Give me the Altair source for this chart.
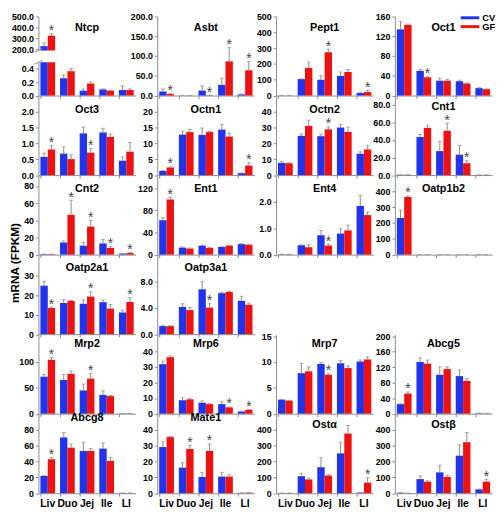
import altair as alt
import pandas as pd

CATEGORIES = ["Liv", "Duo", "Jej", "Ile", "LI"]
GROUPS = ["CV", "GF"]
LAYOUT = [
    ["Ntcp", "Asbt", "Pept1", "Oct1"],
    ["Oct3", "Octn1", "Octn2", "Cnt1"],
    ["Cnt2", "Ent1", "Ent4", "Oatp1b2"],
    ["Oatp2a1", "Oatp3a1", None, None],
    ["Mrp2", "Mrp6", "Mrp7", "Abcg5"],
    ["Abcg8", "Mate1", "Ostα", "Ostβ"],
]

CV_MEAN = {
    "Ntcp": [228, 0.26, 0.073, 0.092, 0.083],
    "Asbt": [10.2, 0.2, 12.6, 27, 3],
    "Pept1": [0.5, 104, 100, 124, 16],
    "Oct1": [134, 50, 30, 29, 15],
    "Oct3": [0.576, 0.68, 1.32, 1.35, 0.455],
    "Octn1": [1.3, 12.8, 12.7, 14.4, 0.6],
    "Octn2": [7.7, 24.8, 24.6, 30.1, 13.5],
    "Cnt1": [0.3, 43.3, 27.3, 23.3, 0.2],
    "Cnt2": [0.5, 14.1, 10.4, 13.0, 1.1],
    "Ent1": [62.3, 12.7, 16.2, 13.8, 19.0],
    "Ent4": [0.01, 0.356, 0.736, 0.80, 1.85],
    "Oatp1b2": [231.6, 0.3, 0.3, 0.3, 0.3],
    "Oatp2a1": [25.0, 16.1, 15.7, 16.5, 11.2],
    "Oatp3a1": [1.23, 4.17, 6.87, 6.27, 5.1],
    "Mrp2": [71.6, 65.4, 45.0, 36.4, 0.4],
    "Mrp6": [31.7, 8.6, 7.0, 6.1, 1.4],
    "Mrp7": [2.72, 7.84, 9.63, 9.75, 10.1],
    "Abcg5": [24.7, 133.3, 100.4, 97.0, 1.0],
    "Abcg8": [21.9, 70.6, 53.5, 56.4, 0.3],
    "Mate1": [29.2, 16.2, 10.3, 10.5, 0.2],
    "Ostα": [1.0, 107.6, 164.5, 251.8, 4.0],
    "Ostβ": [3.0, 89.3, 132.0, 237.6, 24.4],
}
CV_ERR = {
    "Ntcp": [30, 0.05, 0.025, 0.008, 0.063],
    "Asbt": [6.5, 0.1, 12, 17, 1],
    "Pept1": [0.2, 2, 25, 25, 2],
    "Oct1": [16, 3, 5, 2, 1],
    "Oct3": [0.12, 0.21, 0.2, 0.13, 0.12],
    "Octn1": [0.2, 1.1, 2.2, 1.7, 0.1],
    "Octn2": [0.8, 1.2, 1.3, 2.0, 1.2],
    "Cnt1": [0.1, 2.9, 10.9, 10.5, 0.1],
    "Cnt2": [0.2, 1.8, 3.6, 4.8, 0.2],
    "Ent1": [4.7, 1.1, 1.1, 0.6, 1.0],
    "Ent4": [0.005, 0.014, 0.18, 0.18, 0.4],
    "Oatp1b2": [51, 0.1, 0.1, 0.1, 0.1],
    "Oatp2a1": [2.3, 1.7, 1.9, 1.1, 1.2],
    "Oatp3a1": [0.07, 0.49, 1.23, 0.13, 0.7],
    "Mrp2": [4.3, 10.5, 12.4, 8.0, 0.1],
    "Mrp6": [2.0, 1.6, 1.2, 1.5, 0.2],
    "Mrp7": [0.06, 1.9, 0.25, 0.55, 0.3],
    "Abcg5": [0.5, 10.7, 20.6, 15.7, 0.5],
    "Abcg8": [0.3, 6.1, 11.0, 7.3, 0.1],
    "Mate1": [3.3, 3.1, 2.9, 2.7, 0.1],
    "Ostα": [0.5, 18.4, 60.9, 71.0, 1.0],
    "Ostβ": [1.0, 20.3, 44.6, 69.0, 1.6],
}
GF_MEAN = {
    "Ntcp": [324, 0.366, 0.18, 0.073, 0.083],
    "Asbt": [3.8, 0.3, 0.7, 86.5, 64],
    "Pept1": [0.5, 175, 274, 149, 22],
    "Oct1": [143, 37, 30, 24.5, 13],
    "Oct3": [0.81, 0.505, 0.71, 1.21, 0.74],
    "Octn1": [2.4, 13.6, 13.6, 12.2, 3.0],
    "Octn2": [7.5, 31.1, 28.9, 27.3, 16.2],
    "Cnt1": [0.3, 53.8, 50.5, 13.5, 0.2],
    "Cnt2": [0.5, 46.3, 32.6, 7.8, 1.9],
    "Ent1": [99.8, 11.0, 12.1, 16.2, 18.0],
    "Ent4": [0.01, 0.28, 0.344, 0.92, 1.50],
    "Oatp1b2": [364.8, 0.3, 0.3, 0.3, 0.3],
    "Oatp2a1": [13.5, 17.1, 19.4, 13.2, 16.6],
    "Oatp3a1": [1.23, 3.68, 4.07, 6.47, 4.5],
    "Mrp2": [104.3, 77.2, 67.9, 34.0, 0.5],
    "Mrp6": [36.2, 9.2, 6.1, 4.1, 2.5],
    "Mrp7": [2.53, 8.2, 7.53, 8.83, 10.5],
    "Abcg5": [51.9, 129.2, 115.2, 84.8, 0.8],
    "Abcg8": [43.0, 57.6, 53.5, 41.0, 0.3],
    "Mate1": [35.5, 28.0, 26.8, 10.5, 0.3],
    "Ostα": [1.0, 87.3, 111.7, 377.7, 67.0],
    "Ostβ": [1.0, 73.1, 103.6, 322.8, 73.1],
}
GF_ERR = {
    "Ntcp": [19, 0.04, 0.025, 0.005, 0.017],
    "Asbt": [1.2, 0.1, 0.3, 34.5, 22],
    "Pept1": [0.2, 37, 20, 16, 10],
    "Oct1": [1.5, 1, 3, 1, 0.5],
    "Oct3": [0.12, 0.135, 0.13, 0.09, 0.29],
    "Octn1": [0.2, 0.8, 0.2, 1.1, 0.9],
    "Octn2": [0.3, 3.6, 1.6, 3.0, 2.6],
    "Cnt1": [0.1, 2.9, 8.5, 2.9, 0.1],
    "Cnt2": [0.2, 17.0, 7.4, 1.8, 0.4],
    "Ent1": [4.1, 1.0, 0.9, 0.8, 1.0],
    "Ent4": [0.005, 0.1, 0.056, 0.2, 0.12],
    "Oatp1b2": [6, 0.1, 0.1, 0.1, 0.1],
    "Oatp2a1": [0.5, 0.4, 2.5, 2.1, 2.2],
    "Oatp3a1": [0.07, 0.39, 0.59, 0.13, 0.25],
    "Mrp2": [4.3, 5.5, 10.5, 1.2, 0.1],
    "Mrp6": [0.8, 0.6, 0.4, 0.2, 0.3],
    "Mrp7": [0.05, 0.87, 0.17, 0.43, 0.5],
    "Abcg5": [4.1, 9.1, 5.8, 5.7, 0.3],
    "Abcg8": [2.0, 4.9, 2.9, 4.0, 0.1],
    "Mate1": [0.4, 2.4, 4.4, 1.1, 0.1],
    "Ostα": [0.5, 8.1, 6.1, 50.7, 30.5],
    "Ostβ": [0.5, 6.1, 10.1, 61.0, 14.2],
}
SIGNIFICANT = {
    "Ntcp": ["Liv"], "Asbt": ["Liv", "Jej", "Ile", "LI"], "Pept1": ["Jej", "LI"],
    "Oct1": ["Duo"], "Oct3": ["Liv", "Jej"], "Octn1": ["Liv", "LI"], "Octn2": ["Jej"],
    "Cnt1": ["Jej", "Ile"], "Cnt2": ["Duo", "Jej", "Ile", "LI"], "Ent1": ["Liv"],
    "Ent4": ["Jej"], "Oatp1b2": ["Liv"], "Oatp2a1": ["Liv", "Jej", "LI"],
    "Oatp3a1": ["Jej"], "Mrp2": ["Liv", "Jej"], "Mrp6": ["Ile", "LI"], "Mrp7": ["Jej"],
    "Abcg5": ["Liv"], "Abcg8": ["Liv"], "Mate1": ["Duo", "Jej"], "Ostα": ["LI"],
    "Ostβ": ["LI"],
}
Y_MAX = {
    "Asbt": 200, "Pept1": 500, "Oct1": 160, "Oct3": 2.5, "Octn1": 25, "Octn2": 50,
    "Cnt1": 90, "Cnt2": 92, "Ent1": 143, "Ent4": 3.0, "Oatp1b2": 500, "Oatp2a1": 40.8,
    "Oatp3a1": 12.1, "Mrp2": 153, "Mrp6": 50.6, "Mrp7": 15.3, "Abcg5": 204,
    "Abcg8": 100, "Mate1": 50, "Ostα": 500, "Ostβ": 500,
}
Y_TICKS = {
    "Ntcp": [0, 0.2, 0.4, 200, 300, 400, 500],
    "Asbt": [0, 50, 100, 150, 200], "Pept1": [0, 100, 200, 300, 400, 500],
    "Oct1": [0, 40, 80, 120, 160], "Oct3": [0, 0.5, 1.0, 1.5, 2.0],
    "Octn1": [0, 5, 10, 15, 20], "Octn2": [0, 10, 20, 30, 40],
    "Cnt1": [0, 20, 40, 60, 80], "Cnt2": [0, 20, 40, 60, 80], "Ent1": [0, 40, 80, 120],
    "Ent4": [0, 1, 2], "Oatp1b2": [0, 100, 200, 300, 400], "Oatp2a1": [0, 10, 20, 30],
    "Oatp3a1": [0, 4, 8], "Mrp2": [0, 50, 100], "Mrp6": [0, 10, 20, 30, 40],
    "Mrp7": [0, 5, 10, 15], "Abcg5": [0, 40, 80, 120, 160, 200],
    "Abcg8": [0, 20, 40, 60, 80], "Mate1": [0, 10, 20, 30, 40],
    "Ostα": [0, 100, 200, 300, 400], "Ostβ": [0, 100, 200, 300, 400],
}
ONE_DECIMAL = ["Ntcp", "Asbt", "Oct3", "Cnt1", "Ent4", "Oatp3a1"]
TITLE_Y = [11.5, 14, 14, 13, 10, 4]
TITLE_Y_SPECIAL = {"Ostα": 11, "Ostβ": 11, "Cnt1": 11.5}

BLUE = "#2233EE"
RED = "#EE1111"
GRAY = "#8c8c8c"
FONT = "Liberation Sans"
W, H = 99, 80.5


def gene_frame(g):
    rows = []
    for i, c in enumerate(CATEGORIES):
        for grp, m, e in (("CV", CV_MEAN[g][i], CV_ERR[g][i]),
                          ("GF", GF_MEAN[g][i], GF_ERR[g][i])):
            rows.append({"cat": c, "grp": grp, "mean": m, "top": m + e,
                         "star": bool(grp == "GF" and c in SIGNIFICANT[g])})
    return pd.DataFrame(rows)


def x_enc(show_labels):
    return alt.X(
        "cat:N", sort=CATEGORIES,
        scale=alt.Scale(domain=CATEGORIES, paddingInner=0.25, paddingOuter=0.1),
        axis=alt.Axis(title=None, labels=show_labels, labelAngle=0, labelFont=FONT,
                      labelFontSize=10.5, labelFontWeight="bold", labelColor="black",
                      labelPadding=3, tickSize=3, tickColor=GRAY, domainColor=GRAY,
                      bandPosition=0, grid=False),
    )


XOFF = alt.XOffset("grp:N", sort=GROUPS,
                   scale=alt.Scale(domain=GROUPS, paddingInner=0, paddingOuter=0))


def y_scale(g):
    if g == "Ntcp":
        return alt.Scale(domain=[0, 0.5, 190, 500], range=[H, 46.6, 34.4, 0],
                         zero=False, nice=False)
    return alt.Scale(domain=[0, Y_MAX[g]], nice=False)


def y_axis(g):
    return alt.Axis(title=None, values=Y_TICKS[g],
                    format=".1f" if g in ONE_DECIMAL else "d",
                    labelFont=FONT, labelFontSize=9, labelFontWeight="bold",
                    labelColor="black", labelPadding=2, tickSize=3, tickColor=GRAY,
                    domainColor=GRAY, grid=False, labelFlush=False, labelOverlap=False)


def panel(g, row_idx, show_labels):
    df = gene_frame(g)
    ys = y_scale(g)
    ya = y_axis(g)
    base = alt.Chart(df).encode(x=x_enc(show_labels), xOffset=XOFF)
    bars = base.mark_bar().encode(
        y=alt.Y("mean:Q", scale=ys, axis=ya),
        color=alt.Color("grp:N", scale=alt.Scale(domain=GROUPS, range=[BLUE, RED]),
                        legend=None),
    )
    err = base.mark_rule(color=GRAY, strokeWidth=1).encode(
        y=alt.Y("mean:Q", scale=ys, axis=ya), y2="top:Q")
    caps = base.mark_tick(color=GRAY, size=4, thickness=1, orient="horizontal").encode(
        y=alt.Y("top:Q", scale=ys, axis=ya))
    stars = base.transform_filter("datum.star").mark_text(
        text="*", font=FONT, fontSize=14, color="#444", baseline="alphabetic", dy=1.5
    ).encode(y=alt.Y("top:Q", scale=ys, axis=ya))
    ty = TITLE_Y_SPECIAL.get(g, TITLE_Y[row_idx])
    title = alt.Chart(pd.DataFrame({"t": [g]})).mark_text(
        font=FONT, fontSize=11, fontWeight="bold", color="black", baseline="middle"
    ).encode(text="t:N", x=alt.value(W / 2), y=alt.value(ty))
    layers = [bars, err, caps, stars]
    one = pd.DataFrame({"a": [0]})
    if g == "Ntcp":
        gap = alt.Chart(pd.DataFrame({"lo": [0.52], "hi": [188]})).mark_rect(
            color="white").encode(x=alt.value(-1), x2=alt.value(W),
                                  y=alt.Y("lo:Q", scale=ys, axis=ya), y2="hi:Q")
        layers.append(gap)
        for yy in (46.6, 34.4):
            layers.append(alt.Chart(one).mark_rule(color=GRAY, strokeWidth=1).encode(
                x=alt.value(-4), x2=alt.value(4), y=alt.value(yy + 2), y2=alt.value(yy - 2)))
    if g == "Oct1":
        for grp, col, yy in (("CV", BLUE, 1.3), ("GF", RED, 10.3)):
            layers.append(alt.Chart(one).mark_rect(color=col).encode(
                x=alt.value(67), x2=alt.value(86), y=alt.value(yy - 1.5), y2=alt.value(yy + 1.5)))
            layers.append(alt.Chart(one).mark_text(
                text=grp, font=FONT, fontSize=9.5, fontWeight="bold", color="black",
                align="left", baseline="middle").encode(x=alt.value(89), y=alt.value(yy)))
    if g == "Oatp2a1":
        layers.append(alt.Chart(one).mark_text(
            text="mRNA (FPKM)", font=FONT, fontSize=12, fontWeight="bold", color="black",
            angle=270, align="center", baseline="middle").encode(
            x=alt.value(-24), y=alt.value(8)))
    layers.append(title)
    return alt.layer(*layers).properties(width=W, height=H)


def blank():
    return alt.Chart(pd.DataFrame({"a": [0]})).mark_point(opacity=0).encode(
        x=alt.X("a:Q", axis=None), y=alt.Y("a:Q", axis=None)
    ).properties(width=W, height=H)


cells = []
for r, row in enumerate(LAYOUT):
    for g in row:
        cells.append(blank() if g is None else panel(g, r, r == len(LAYOUT) - 1))

chart = alt.concat(
    *cells, columns=4, spacing={"row": 0, "column": 22}, bounds="flush"
).properties(padding=0).configure_view(strokeWidth=0)

chart.save("out.html", embed_options={"renderer": "svg", "actions": False})
